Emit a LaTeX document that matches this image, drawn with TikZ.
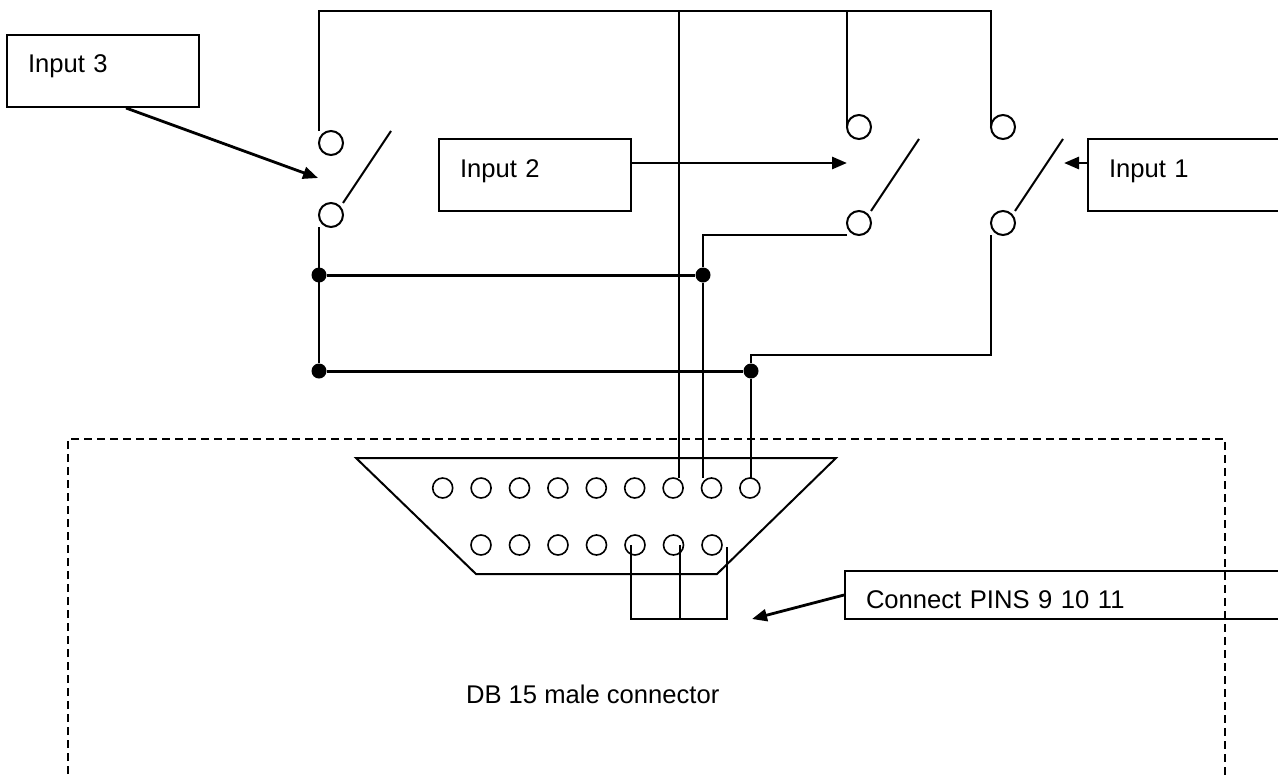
\documentclass[tikz,border=0pt]{standalone}
\usepackage{fontspec}
\setmainfont{Liberation Sans}
\usetikzlibrary{arrows.meta,calc}

\begin{document}
\begin{tikzpicture}[x=0.5pt,y=-0.5pt,font=\fontsize{12.8pt}{15pt}\selectfont,
    wire/.style={line width=1pt},
    bus/.style={line width=1.5pt},
    contact/.style={circle,draw,line width=1pt,minimum size=12pt,inner sep=0pt,outer sep=0pt},
    pin/.style={circle,draw,line width=0.8pt,minimum size=10pt,inner sep=0pt,outer sep=0pt},
    joint/.style={circle,fill,minimum size=7.5pt,inner sep=0pt},
    inbox/.style={draw,line width=1pt,minimum height=36pt,text width=75pt,
      inner xsep=10.5pt,inner ysep=0pt,align=left,text height=9.3pt},
    feed/.style={line width=1.4pt,-{Triangle[length=7.5pt,width=6pt]}}]
          \useasboundingbox (0,0) rectangle (1278,776);
          \clip (0,0) rectangle (1278,776);

          % Input boxes
          \node[inbox,text depth=8.3pt] (in3) at (103,71) {Input 3};
          \node[inbox,text depth=7.3pt] (in2) at (535,175) {Input 2};
          \node[inbox,text depth=7.3pt,text width=90pt,anchor=west] (in1) at (1087,175) {Input 1};
          \node[inbox,minimum height=24pt,text width=200pt,text height=15.7pt,text depth=2.7pt,anchor=west] (pins) at (844,595) {Connect PINS 9 10 11};

          % Switch contacts and blades
          \node[contact] (s3a) at (331,143) {};
          \node[contact] (s3b) at (331,215) {};
          \node[contact] (s2a) at (859,127) {};
          \node[contact] (s2b) at (859,223) {};
          \node[contact] (s1a) at (1003,127) {};
          \node[contact] (s1b) at (1003,223) {};
          \foreach \s in {s3b,s2b,s1b}
            \draw[wire] ($(\s)+(12,-12)$) -- ++(48,-72);

          % DB 15 connector
          \draw[wire] (356,458) -- (836,458) -- (717,574) -- (476,574) -- cycle;
          \foreach \i in {1,...,9}
            \node[pin] (p\i) at ({404.3+38.4*\i},488) {};
          \foreach \i in {1,...,7}
            \node[pin] (q\i) at ({442.5+38.5*\i},545) {};
          \node[anchor=base west] (db) at (459,703) {DB 15 male connector};
          \draw[line width=0.9pt,dash pattern=on 4pt off 2.5pt] (68,800) -- (68,439) -- (1225,439) -- (1225,800);

          % Junctions and corners
          \node[joint] (j1) at (319,275) {};
          \node[joint] (j2) at (703,275) {};
          \node[joint] (j3) at (319,371) {};
          \node[joint] (j4) at (751,371) {};
          \coordinate (c1) at (319,11);
          \coordinate (c2) at (991,11);
          \coordinate (c3) at (991,355);
          \coordinate (t2) at (679,11);
          \coordinate (t3) at (847,11);
          \coordinate (b1) at (631,619);
          \coordinate (b3) at (727,619);

          % Wiring
          \draw[wire] (s3a.west |- s3a.north) -- (c1) -- (c2) -- (s1a.west);
          \draw[wire] (t3) -- (s2a.west);
          \draw[wire] (t2) -- (p7.north -| t2);
          \draw[wire] (s3b.west |- s3b.south) -- (j3);
          \draw[bus] (j1) -- (j2);
          \draw[bus] (j3) -- (j4);
          \draw[wire] (s2b.west |- s2b.south) -| (j2) -- (p8.north -| j2);
          \draw[wire] (s1b.west |- s1b.south) -- (c3) -| (j4) -- (p9.north -| j4);
          \draw[wire] ($(q5)+(-4,0)$) -- (b1) -- (b3) -- ($(q7)+(15,2)$);
          \draw[wire] ($(q6)+(6,0)$) -- ($(q6)+(6,74)$);

          % Arrows
          \coordinate (s3in) at (318,178);
          \coordinate (s2in) at (847,163);
          \coordinate (s1in) at (1064,163);
          \coordinate (bridge) at (752,619);
          \draw[feed] ($(in3.south)+(23,0)$) -- (s3in);
          \draw[feed] ($(in2.east)+(0,-12)$) -- (s2in);
          \draw[feed] ($(in1.west)+(0,-12)$) -- (s1in);
          \draw[feed] (pins.west) -- (bridge);
        \end{tikzpicture}
\end{document}
